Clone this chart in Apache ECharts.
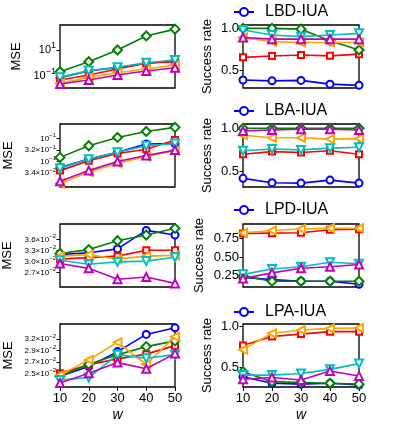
<!DOCTYPE html>
<html>
<head>
  <meta charset="utf-8" />
  <script src="https://cdn.jsdelivr.net/npm/echarts@6.0.0/dist/echarts.min.js"></script>
</head>
<body style="margin:0;background:#fff">
  <div id="main" style="width:399px;height:426px;"></div>
  <script type="text/javascript">
    var wValues = [10, 20, 30, 40, 50];
    // order of rows in every panel: blue o, red s, green D, orange <, cyan v, magenta ^
    var lbdMse = [
      [0.075, 0.24, 0.45, 0.95, 1.5],
      [0.049, 0.12, 0.35, 0.95, 1.26],
      [0.21, 1.26, 10, 120, 400],
      [0.027, 0.079, 0.18, 0.35, 0.7],
      [0.079, 0.26, 0.47, 1.05, 1.7],
      [0.024, 0.049, 0.12, 0.24, 0.43]
    ];
    var lbdRate = [
      [0.38, 0.37, 0.375, 0.33, 0.316],
      [0.652, 0.668, 0.68, 0.67, 0.69],
      [1.0, 1.0, 0.99, 0.85, 0.74],
      [0.89, 0.84, 0.83, 0.83, 0.83],
      [0.98, 0.92, 0.9, 0.92, 0.94],
      [0.89, 0.87, 0.87, 0.87, 0.87]
    ];
    var lbaMse = [
      [0.055, 0.126, 0.25, 0.57, 0.6],
      [0.04, 0.107, 0.22, 0.34, 0.85],
      [0.15, 0.48, 1.1, 2.0, 3.0],
      [0.0112, 0.034, 0.083, 0.16, 0.3],
      [0.051, 0.126, 0.25, 0.48, 0.6],
      [0.0138, 0.04, 0.1, 0.18, 0.31]
    ];
    var lbaRate = [
      [0.42, 0.37, 0.365, 0.40, 0.365],
      [0.70, 0.73, 0.72, 0.74, 0.70],
      [1.0, 1.0, 1.0, 1.0, 1.0],
      [0.92, 0.89, 0.89, 0.875, 0.88],
      [0.74, 0.76, 0.75, 0.77, 0.78],
      [0.97, 0.98, 0.99, 0.99, 0.98]
    ];
    var lpdMse = [
      [0.0315, 0.032, 0.0331, 0.0388, 0.0373],
      [0.0303, 0.0307, 0.0311, 0.0327, 0.0327],
      [0.0318, 0.0329, 0.0355, 0.0373, 0.0395],
      [0.0311, 0.0315, 0.0303, 0.0311, 0.0313],
      [0.0300, 0.029, 0.0296, 0.0298, 0.0308],
      [0.0292, 0.028, 0.0255, 0.026, 0.0246]
    ];
    var lpdRate = [
      [0.23, 0.2, 0.18, 0.18, 0.14],
      [0.81, 0.815, 0.82, 0.86, 0.867],
      [0.25, 0.18, 0.18, 0.18, 0.18],
      [0.82, 0.85, 0.87, 0.88, 0.88],
      [0.27, 0.34, 0.37, 0.43, 0.41],
      [0.216, 0.29, 0.35, 0.37, 0.40]
    ];
    var lpaMse = [
      [0.0245, 0.0262, 0.029, 0.0326, 0.0341],
      [0.025, 0.0265, 0.0276, 0.0285, 0.0302],
      [0.0245, 0.0266, 0.0284, 0.03, 0.0312],
      [0.0247, 0.0274, 0.0309, 0.0266, 0.0321],
      [0.0239, 0.0243, 0.0284, 0.0277, 0.0284],
      [0.0234, 0.025, 0.0269, 0.0258, 0.0286]
    ];
    var lpaRate = [
      [0.39, 0.31, 0.30, 0.31, 0.29],
      [0.77, 0.88, 0.91, 0.94, 0.94],
      [0.45, 0.33, 0.32, 0.31, 0.30],
      [0.72, 0.92, 0.96, 0.98, 0.985],
      [0.41, 0.41, 0.43, 0.48, 0.55],
      [0.36, 0.38, 0.35, 0.46, 0.40]
    ];

    var attackNames = ['LBD-IUA', 'LBA-IUA', 'LPD-IUA', 'LPA-IUA'];

    // tick values and the (odd) tick texts printed in the figure
    var lbdMseTicks = [0.1, 10];
    var lbdMseTickText = ['10{s|\u22121}', '10{s|1}'];
    var lbaMseTicks = [0.0316, 0.1, 0.316, 1];
    var lbaMseTickText = ['3.4\u00d710{s|\u22122}', '10{s|\u22121}', '3.2\u00d710{s|\u22121}', '10{s|\u22121}'];
    var lpdMseTicks = [0.027, 0.0297, 0.03267, 0.03594];
    var lpdMseTickText = ['2.7\u00d710{s|\u22122}', '3.0\u00d710{s|\u22122}', '3.3\u00d710{s|\u22122}', '3.6\u00d710{s|\u22122}'];
    var lpaMseTicks = [0.025, 0.027, 0.0292, 0.0316];
    var lpaMseTickText = ['2.5\u00d710{s|\u22122}', '2.7\u00d710{s|\u22122}', '2.9\u00d710{s|\u22122}', '3.2\u00d710{s|\u22122}'];

    var rateTicks = [0.5, 1.0];
    var rateTickText = ['0.5', '1.0'];
    var lpdRateTicks = [0.25, 0.5, 0.75];
    var lpdRateTickText = ['0.25', '0.50', '0.75'];

    var colors = ['#0000ff', '#ff0000', '#008000', '#ffa500', '#00bfbf', '#bf00bf'];
    var symbols = ['emptyCircle', 'emptyRect', 'emptyDiamond', 'emptyTriangle', 'emptyTriangle', 'emptyTriangle'];
    var symRot = [0, 0, 0, 90, 180, 0];
    var symSize = [7, 6, 9, 8, 8, 8];

    var FONT = 'Liberation Sans, Arial, sans-serif';
    var tops = [25, 124, 224, 324];
    var H = 63;

    var rows = [
      { mse: lbdMse, rate: lbdRate, mT: lbdMseTicks, mTT: lbdMseTickText, mMin: 0.012, mMax: 832, mFs: 11, mGap: 37,
        rT: rateTicks, rTT: rateTickText, rMin: 0.284, rMax: 1.04, rGap: 29 },
      { mse: lbaMse, rate: lbaRate, mT: lbaMseTicks, mTT: lbaMseTickText, mMin: 0.0078, mMax: 4.2, mFs: 8, mGap: 45,
        rT: rateTicks, rTT: rateTickText, rMin: 0.32, rMax: 1.05, rGap: 29 },
      { mse: lpdMse, rate: lpdRate, mT: lpdMseTicks, mTT: lpdMseTickText, mMin: 0.02385, mMax: 0.041, mFs: 8, mGap: 46,
        rT: lpdRateTicks, rTT: lpdRateTickText, rMin: 0.103, rMax: 0.936, rGap: 37 },
      { mse: lpaMse, rate: lpaRate, mT: lpaMseTicks, mTT: lpaMseTickText, mMin: 0.02278, mMax: 0.035, mFs: 8, mGap: 45,
        rT: rateTicks, rTT: rateTickText, rMin: 0.265, rMax: 1.033, rGap: 29 }
    ];

    function pickText(ticks, texts) {
      return function (v) {
        for (var i = 0; i < ticks.length; i++) {
          if (Math.abs(v - ticks[i]) / ticks[i] < 1e-3) return texts[i];
        }
        return '';
      };
    }

    var grid = [], xAxis = [], yAxis = [], series = [], legend = [];

    rows.forEach(function (r, ri) {
      var last = ri === rows.length - 1;
      [0, 1].forEach(function (c) {
        var gi = ri * 2 + c;
        grid.push({
          left: c === 0 ? 60 : 243, top: tops[ri], width: c === 0 ? 115 : 116, height: H,
          show: true, borderColor: '#000', borderWidth: 1.3, backgroundColor: 'transparent'
        });
        xAxis.push({
          type: 'value', gridIndex: gi, min: 10, max: 50, interval: 10,
          axisLine: { show: false },
          axisTick: { show: last, length: 4, lineStyle: { color: '#000' } },
          axisLabel: { show: last, color: '#000', fontSize: 13, fontFamily: FONT, margin: 5 },
          splitLine: { show: false },
          name: last ? 'w' : '', nameLocation: 'middle', nameGap: 21,
          nameTextStyle: { color: '#000', fontSize: 14, fontStyle: 'italic', fontFamily: FONT }
        });
        var ticks = c === 0 ? r.mT : r.rT;
        var texts = c === 0 ? r.mTT : r.rTT;
        yAxis.push({
          type: c === 0 ? 'log' : 'value', logBase: 10, gridIndex: gi,
          min: c === 0 ? r.mMin : r.rMin, max: c === 0 ? r.mMax : r.rMax,
          axisLine: { show: false },
          axisTick: { show: true, length: 3.5, customValues: ticks, lineStyle: { color: '#000' } },
          axisLabel: {
            customValues: ticks, color: '#000', margin: 4,
            fontSize: c === 0 ? r.mFs : 13, fontFamily: FONT,
            formatter: pickText(ticks, texts),
            rich: { s: { fontSize: c === 0 ? r.mFs - 2 : 9, fontFamily: FONT, color: '#000', padding: [0, 0, c === 0 ? r.mFs - 2 : 6, 0] } }
          },
          splitLine: { show: false },
          name: c === 0 ? 'MSE' : 'Success rate', nameLocation: 'middle', nameRotate: 90,
          nameGap: c === 0 ? r.mGap : r.rGap,
          nameTextStyle: { color: '#000', fontSize: 13, fontFamily: FONT }
        });
        var vals = c === 0 ? r.mse : r.rate;
        vals.forEach(function (arr, si) {
          var name = (c === 1 && si === 0) ? attackNames[ri] : (attackNames[ri] + '-' + c + '-' + si);
          series.push({
            type: 'line', name: name, xAxisIndex: gi, yAxisIndex: gi,
            data: wValues.map(function (w, k) { return [w, arr[k]]; }),
            color: colors[si],
            symbol: symbols[si], symbolRotate: symRot[si], symbolSize: symSize[si],
            lineStyle: { width: 1.6, color: colors[si] },
            itemStyle: { color: colors[si], borderWidth: 1.3 },
            emphasis: { disabled: true },
            animation: false, z: 2 + si
          });
        });
      });
      legend.push({
        data: [attackNames[ri]], left: 233, top: [3, 102, 201, 303][ri], padding: 0,
        itemWidth: 20, itemHeight: 10, itemGap: 5, selectedMode: false,
        textStyle: { color: '#000', fontSize: 16, fontFamily: FONT, lineHeight: 18, padding: [0, 0, 0, 6] }
      });
    });

    var myChart = echarts.init(document.getElementById('main'));
    myChart.setOption({
      backgroundColor: '#fff',
      animation: false,
      grid: grid, xAxis: xAxis, yAxis: yAxis, series: series, legend: legend
    });
  </script>
</body>
</html>
